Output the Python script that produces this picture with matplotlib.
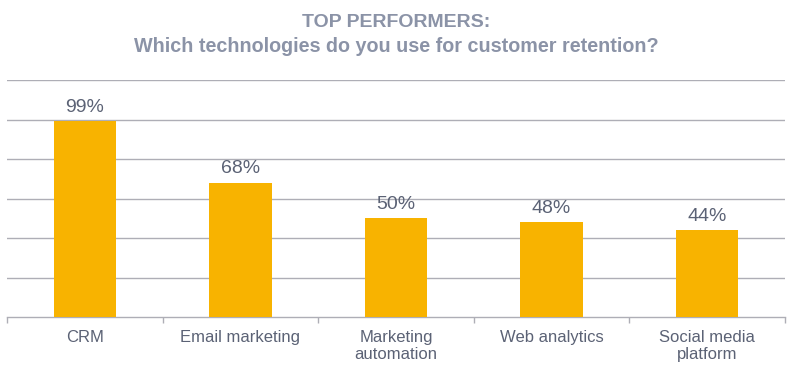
import matplotlib
matplotlib.use("Agg")
import matplotlib.pyplot as plt
import numpy as np

categories = ["CRM", "Email marketing", "Marketing\nautomation", "Web analytics", "Social media\nplatform"]
values = [99, 68, 50, 48, 44]
value_labels = ["99%", "68%", "50%", "48%", "44%"]
title_line1 = "TOP PERFORMERS:"
title_line2 = "Which technologies do you use for customer retention?"

BAR = "#F8B300"
TEXT = "#5B6275"
TITLE = "#8B93A7"
GRID = "#AEAEB6"

plt.rcParams['font.family'] = ['Liberation Sans', 'DejaVu Sans']

fig = plt.figure(figsize=(7.99, 3.70), dpi=100)
W, H = 799, 370
ax = fig.add_axes([7 / W, 1 - 317 / H, (785 - 7) / W, (317 - 80) / H])

x = np.arange(len(categories))
ax.bar(x, values, width=0.4, color=BAR, zorder=3)

ax.set_xlim(-0.5, len(categories) - 0.5)
ax.set_ylim(0, 120)
ax.set_yticks(np.arange(20, 121, 20))
ax.yaxis.grid(True, color=GRID, linewidth=1.0)
ax.tick_params(axis='y', left=False, labelleft=False)
for s in ['left', 'right', 'top']:
    ax.spines[s].set_visible(False)
ax.spines['bottom'].set_color(GRID)
ax.spines['bottom'].set_linewidth(1.0)
ax.set_axisbelow(True)

ax.set_xticks(x)
ax.set_xticklabels(categories, fontsize=12, color=TEXT, linespacing=1.13)
ax.tick_params(axis='x', which='major', length=0, pad=9.5)
ax.set_xticks(np.arange(-0.5, len(categories), 1.0), minor=True)
ax.tick_params(axis='x', which='minor', length=4, width=1.0, color=GRID, direction='out')

for xi, v, lab in zip(x, values, value_labels):
    ax.annotate(lab, (xi, v), xytext=(0, 6.7), textcoords='offset points',
                ha='center', va='baseline', fontsize=14, color=TEXT)

cx = (7 + 785) / 2 / W
fig.text(cx, 1 - 26.7 / H, title_line1, ha='center', va='baseline',
         fontsize=14, fontweight='bold', color=TITLE)
fig.text(cx, 1 - 51.5 / H, title_line2, ha='center', va='baseline',
         fontsize=14.2, fontweight='bold', color=TITLE)

fig.savefig("out.png", dpi=100)
